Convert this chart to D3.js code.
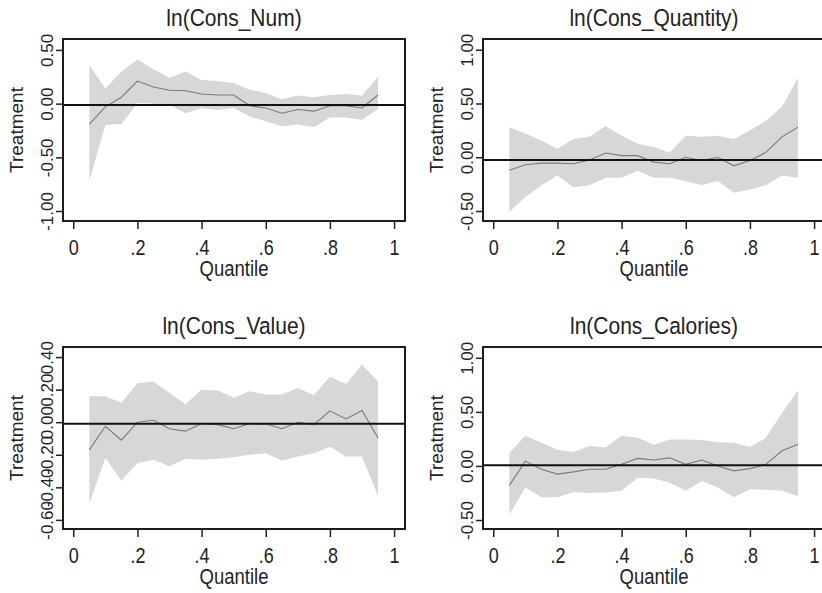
<!DOCTYPE html>
<html lang="en">
<head>
  <meta charset="UTF-8">
  <title>Quantile treatment effects</title>
  <script src="https://d3js.org/d3.v7.min.js"></script>
  <style>
    body { margin: 0; background: #fff; }
    svg { display: block; font-family: "Liberation Sans", Arial, sans-serif; }
    .band { fill: #d7d7d7; stroke: none; }
    .coef { fill: none; stroke: #7a7a7a; stroke-width: 1.1px; }
    .ols { stroke: #111; stroke-width: 2px; }
    .frame { fill: none; stroke: #1c1c1c; stroke-width: 2px; }
    .axis line { stroke: #222; stroke-width: 1.5px; }
    .axis path { display: none; }
    .axis text { fill: #222; }
  </style>
</head>
<body>
<svg width="822" height="593"></svg>
<script>
// quantiles estimated
const quantiles = [0.05, 0.10, 0.15, 0.20, 0.25, 0.30, 0.35, 0.40, 0.45, 0.50,
                   0.55, 0.60, 0.65, 0.70, 0.75, 0.80, 0.85, 0.90, 0.95];

const titles = ["ln(Cons_Num)", "ln(Cons_Quantity)", "ln(Cons_Value)", "ln(Cons_Calories)"];

// ln(Cons_Num)
const numCoef = [-0.19, -0.03, 0.06, 0.21, 0.155, 0.125, 0.12, 0.09, 0.08, 0.08,
                 -0.02, -0.04, -0.09, -0.055, -0.07, -0.02, -0.02, -0.04, 0.08];
const numHi   = [0.36, 0.14, 0.30, 0.41, 0.32, 0.24, 0.30, 0.22, 0.21, 0.19,
                 0.13, 0.10, 0.04, 0.075, 0.06, 0.08, 0.09, 0.075, 0.25];
const numLo   = [-0.72, -0.20, -0.19, 0.005, 0.0, -0.01, -0.09, -0.04, -0.06, -0.04,
                 -0.12, -0.165, -0.21, -0.195, -0.22, -0.13, -0.13, -0.15, -0.05];

// ln(Cons_Quantity)
const qtyCoef = [-0.12, -0.07, -0.055, -0.055, -0.06, -0.025, 0.04, 0.015, 0.015, -0.045,
                 -0.06, 0.0, -0.03, 0.0, -0.08, -0.03, 0.045, 0.19, 0.28];
const qtyHi   = [0.28, 0.22, 0.155, 0.08, 0.17, 0.19, 0.29, 0.20, 0.125, 0.095,
                 0.045, 0.20, 0.19, 0.20, 0.17, 0.25, 0.34, 0.47, 0.74];
const qtyLo   = [-0.51, -0.37, -0.26, -0.17, -0.28, -0.26, -0.19, -0.19, -0.125, -0.19,
                 -0.19, -0.22, -0.26, -0.22, -0.33, -0.30, -0.26, -0.17, -0.19];

// ln(Cons_Value)
const valCoef = [-0.17, -0.025, -0.11, 0.0, 0.012, -0.04, -0.055, -0.008, -0.015, -0.04,
                 -0.008, -0.01, -0.04, 0.0, -0.015, 0.07, 0.02, 0.072, -0.097];
const valHi   = [0.16, 0.16, 0.12, 0.24, 0.25, 0.18, 0.11, 0.20, 0.195, 0.15,
                 0.19, 0.17, 0.17, 0.21, 0.165, 0.28, 0.235, 0.355, 0.25];
const valLo   = [-0.50, -0.22, -0.36, -0.25, -0.23, -0.27, -0.225, -0.23, -0.225, -0.215,
                 -0.20, -0.19, -0.235, -0.21, -0.19, -0.15, -0.21, -0.21, -0.455];

// ln(Cons_Calories)
const calCoef = [-0.18, 0.045, -0.03, -0.075, -0.055, -0.03, -0.03, 0.015, 0.07, 0.055,
                 0.075, 0.015, 0.055, 0.0, -0.045, -0.025, 0.015, 0.14, 0.20];
const calHi   = [0.12, 0.28, 0.215, 0.15, 0.13, 0.185, 0.17, 0.28, 0.26, 0.195,
                 0.245, 0.245, 0.24, 0.22, 0.215, 0.175, 0.26, 0.49, 0.70];
const calLo   = [-0.45, -0.20, -0.29, -0.29, -0.24, -0.25, -0.245, -0.23, -0.11, -0.115,
                 -0.155, -0.23, -0.14, -0.20, -0.29, -0.215, -0.22, -0.23, -0.28];

// horizontal reference (OLS) lines
const olsLines = [-0.012, -0.025, -0.01, 0.006];

const xTicks = [0, 0.2, 0.4, 0.6, 0.8, 1];
const yTicksA = [-1, -0.5, 0, 0.5];
const yTicksB = [-0.5, 0, 0.5, 1];
const yTicksC = [-0.6, -0.4, -0.2, 0, 0.2, 0.4];

const series = [
  { coef: numCoef, hi: numHi, lo: numLo, ticks: yTicksA },
  { coef: qtyCoef, hi: qtyHi, lo: qtyLo, ticks: yTicksB },
  { coef: valCoef, hi: valHi, lo: valLo, ticks: yTicksC },
  { coef: calCoef, hi: calHi, lo: calLo, ticks: yTicksB }
];

// panel layout (frame position and axis ranges)
const panels = [
  { left: 63,  top: 39,  yDom: [-1.093, 0.602] },
  { left: 483, top: 39,  yDom: [-0.593, 1.10] },
  { left: 63,  top: 347, yDom: [-0.656, 0.462] },
  { left: 483, top: 347, yDom: [-0.583, 1.10] }
];
const W = 342, H = 182;
const stretch = 1.18; // text in the source looks a bit taller than wide

const svg = d3.select("svg");

const fmtX = d => d === 0 ? "0" : d === 1 ? "1" : d3.format(".1f")(d).replace(/^0/, "");
const fmtY = d => d3.format(".2f")(d).replace("\u2212", "-");

panels.forEach((p, i) => {
  const s = series[i];
  const g = svg.append("g").attr("transform", `translate(${p.left},${p.top})`);

  const x = d3.scaleLinear().domain([-0.032, 1.034]).range([0, W]);
  const y = d3.scaleLinear().domain(p.yDom).range([H, 0]);

  const rows = quantiles.map((q, k) => ({ q, c: s.coef[k], hi: s.hi[k], lo: s.lo[k] }));

  g.append("path")
    .datum(rows)
    .attr("class", "band")
    .attr("d", d3.area().x(d => x(d.q)).y0(d => y(d.lo)).y1(d => y(d.hi)));

  g.append("path")
    .datum(rows)
    .attr("class", "coef")
    .attr("d", d3.line().x(d => x(d.q)).y(d => y(d.c)));

  g.append("line")
    .attr("class", "ols")
    .attr("x1", 0).attr("x2", W)
    .attr("y1", y(olsLines[i])).attr("y2", y(olsLines[i]));

  g.append("rect")
    .attr("class", "frame")
    .attr("width", W).attr("height", H);

  // x axis
  const xa = g.append("g")
    .attr("class", "axis")
    .attr("transform", `translate(0,${H + 1})`)
    .call(d3.axisBottom(x).tickValues(xTicks).tickFormat(fmtX).tickSize(7).tickSizeOuter(0));
  xa.selectAll("text")
    .attr("y", 0).attr("dy", 0)
    .attr("transform", `translate(0,33) scale(1,${stretch})`)
    .style("font-size", "18px");

  // y axis with rotated labels
  const ya = g.append("g")
    .attr("class", "axis")
    .attr("transform", "translate(-1,0)")
    .call(d3.axisLeft(y).tickValues(s.ticks).tickFormat(fmtY).tickSize(6).tickSizeOuter(0));
  ya.selectAll("text")
    .attr("transform", "rotate(-90)")
    .attr("x", 0).attr("y", -9).attr("dy", 0)
    .attr("text-anchor", "middle")
    .style("font-size", "17px");

  g.append("text")
    .attr("transform", `translate(${W / 2},-13) scale(1,${stretch})`)
    .attr("text-anchor", "middle")
    .attr("fill", "#222")
    .style("font-size", "21px")
    .text(titles[i]);

  g.append("text")
    .attr("transform", `translate(${W / 2},${H + 55}) scale(1,${stretch})`)
    .attr("text-anchor", "middle")
    .attr("fill", "#222")
    .style("font-size", "18.5px")
    .text("Quantile");

  g.append("text")
    .attr("transform", `translate(-40,${H / 2}) rotate(-90)`)
    .attr("text-anchor", "middle")
    .attr("fill", "#222")
    .style("font-size", "19px")
    .text("Treatment");
});
</script>
</body>
</html>
